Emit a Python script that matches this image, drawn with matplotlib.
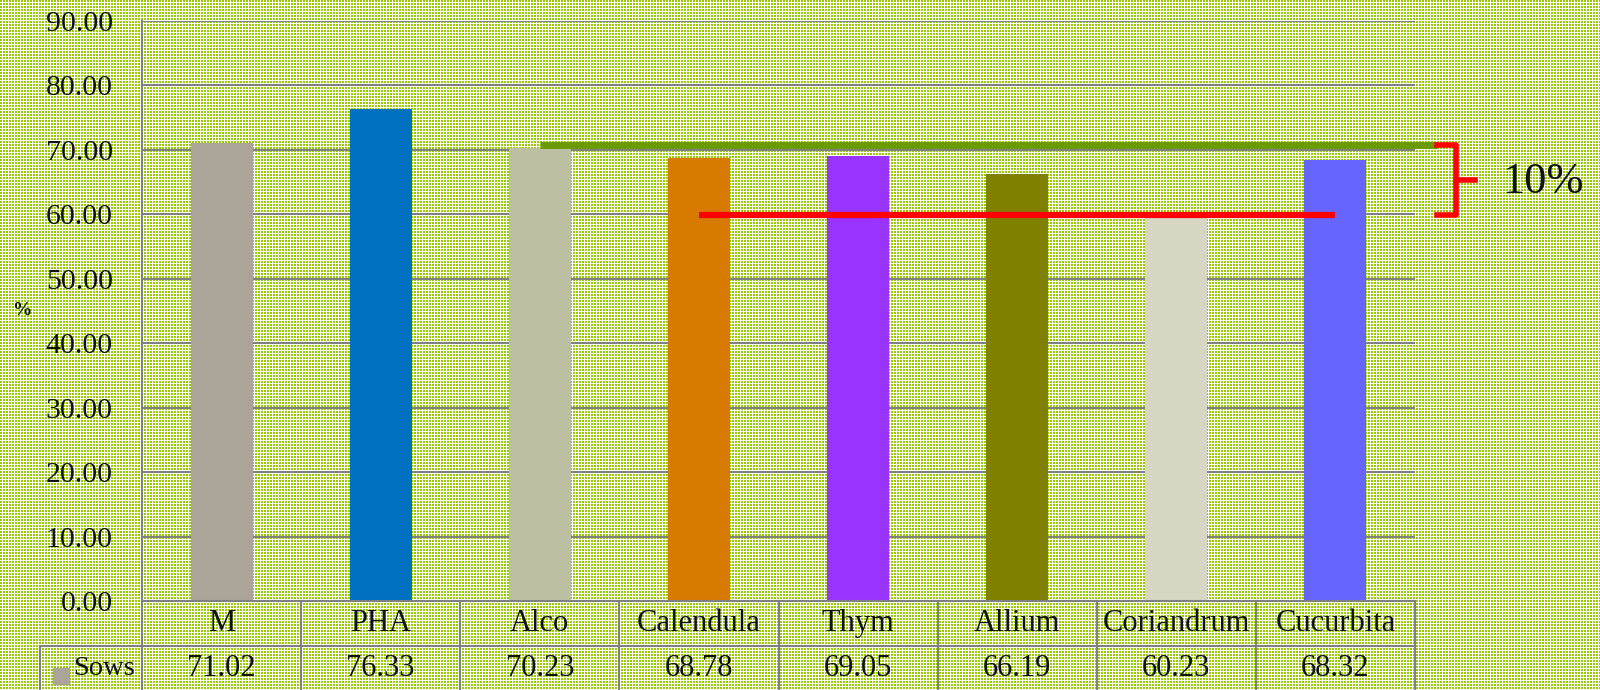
import numpy as np
import matplotlib
matplotlib.use("Agg")
import matplotlib.pyplot as plt
from matplotlib.transforms import blended_transform_factory

# data
categories = ["M", "PHA", "Alco", "Calendula", "Thym", "Allium", "Coriandrum", "Cucurbita"]
sows = [71.02, 76.33, 70.23, 68.78, 69.05, 66.19, 60.23, 68.32]
bar_colors = ["#ABA498", "#0070C0", "#BDBFA3", "#D97A00", "#9933FF", "#808000", "#D6D6C2", "#6666FF"]
yticks = [0, 10, 20, 30, 40, 50, 60, 70, 80, 90]
series_name = "Sows"
legend_color = "#ABA498"

# reference lines drawn over the bars (level, from category, to category)
upper_ref = (70.7, 2.0, 7.64)
lower_ref = (59.8, 3.0, 7.0)
bracket_label = "10%"

W, H = 1600, 690
fig = plt.figure(figsize=(W / 100, H / 100), dpi=100)

# dotted green background
rr, cc = np.mgrid[0:H, 0:W]
mask = (rr % 3 < 2) & (cc % 3 < 2)
bg = np.ones((H, W, 3))
bg[mask] = (153 / 255, 204 / 255, 0)
fig.figimage(bg, 0, 0, zorder=-10)

ax = fig.add_axes([142 / W, (H - 601) / H, (1415 - 142) / W, (601 - 20.7) / H])
ax.set_facecolor("none")
ax.set_zorder(1)

serif = "Liberation Serif"
grid_c = "#808080"
txt_c = "#111111"

x = np.arange(len(categories))
ax.bar(x, sows, width=0.39, color=bar_colors, zorder=3)
ax.set_xlim(-0.5, len(categories) - 0.5)
ax.set_ylim(0, 90)
ax.set_yticks(yticks)
ax.set_yticklabels([f"{v:.2f}" for v in yticks], fontfamily=serif, fontsize=21.5, color=txt_c)
ax.tick_params(axis="y", length=0, pad=21)
ax.set_xticks([])
ax.yaxis.grid(True, color=grid_c, lw=1.5, zorder=1)
ax.set_axisbelow(True)
for s in ["top", "right", "bottom"]:
    ax.spines[s].set_visible(False)
ax.spines["left"].set_color(grid_c)
ax.spines["left"].set_linewidth(1.5)

ax.text(-0.094, 0.5, "%", transform=ax.transAxes, fontfamily=serif, color=txt_c,
        fontsize=14, fontweight="bold", ha="center", va="center")

# data table below the plot
tr = blended_transform_factory(ax.transData, ax.transAxes)
row_h = 45 / (601 - 20.7)
n = len(categories)
lw = 1.5
line_kw = dict(color=grid_c, lw=lw, transform=tr, clip_on=False, zorder=4)
ax.plot([-0.5, n - 0.5], [0, 0], **line_kw)
legend_left = -1.14
ax.plot([legend_left, n - 0.5], [-row_h, -row_h], **line_kw)
for i in range(n + 1):
    ax.plot([i - 0.5, i - 0.5], [0, -3 * row_h], **line_kw)
ax.plot([legend_left, legend_left], [-row_h, -3 * row_h], **line_kw)

for i, (cat, v) in enumerate(zip(categories, sows)):
    ax.text(i, -row_h * 0.5, cat, transform=tr, ha="center", va="center",
            fontfamily=serif, fontsize=22, color=txt_c)
    ax.text(i, -row_h * 1.5, f"{v:.2f}", transform=tr, ha="center", va="center",
            fontfamily=serif, fontsize=22, color=txt_c)

ax.add_patch(plt.Rectangle((-1.06, -row_h * 1.85), 0.1, row_h * 0.37, transform=tr,
                           color=legend_color, clip_on=False, zorder=5))
ax.text(-0.93, -row_h * 1.5, series_name, transform=tr, ha="left", va="center",
        fontfamily=serif, fontsize=20.5, color=txt_c)

# reference lines and bracket
ax.plot([upper_ref[1], upper_ref[2]], [upper_ref[0], upper_ref[0]], color="#6B9A00",
        lw=5, solid_capstyle="butt", clip_on=False, zorder=5)
ax.plot([lower_ref[1], lower_ref[2]], [lower_ref[0], lower_ref[0]], color="#FF0000",
        lw=4.5, solid_capstyle="butt", clip_on=False, zorder=5)
bx = 7.76
mid = (upper_ref[0] + lower_ref[0]) / 2
ax.plot([upper_ref[2], bx, bx, lower_ref[2] + 0.64], [upper_ref[0], upper_ref[0], lower_ref[0], lower_ref[0]],
        color="#FF0000", lw=4, clip_on=False, zorder=6, solid_joinstyle="round")
ax.plot([bx, 7.88], [mid, mid], color="#FF0000", lw=4, clip_on=False, zorder=6)
ax.text(8.05, mid - 0.3, bracket_label, ha="left", va="center", fontfamily=serif,
        fontsize=32, color=txt_c)

fig.savefig("out.png", dpi=100)
